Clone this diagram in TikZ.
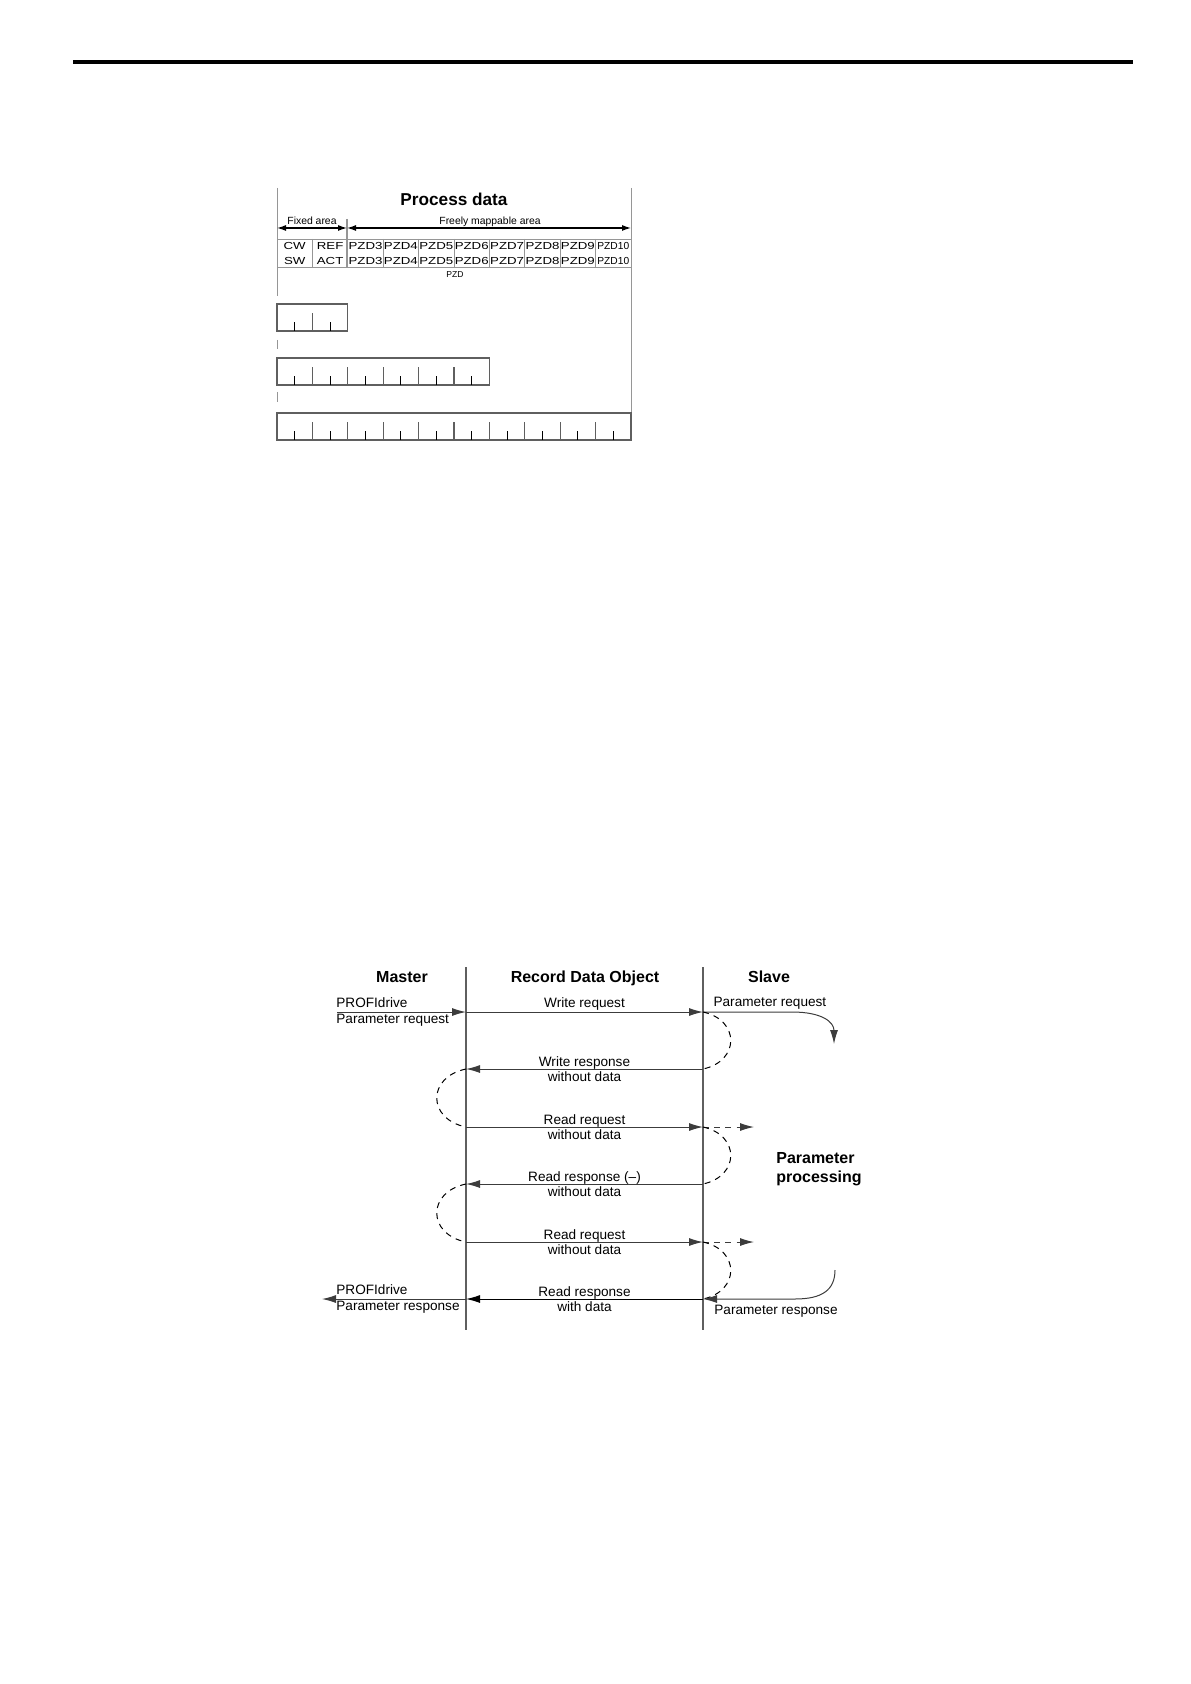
\documentclass[tikz,border=0pt]{standalone}
\usepackage{fontspec}
\setmainfont{Liberation Sans}
\newfontfamily\cellfont[FakeStretch=1.3]{Liberation Sans}
\usepackage{graphicx}
\usetikzlibrary{arrows.meta,calc}
\definecolor{lineGray}{RGB}{95,95,95}
\definecolor{gridGray}{RGB}{150,150,150}
\definecolor{msgGray}{RGB}{60,60,60}

\tikzset{
  lifeline/.style={draw=lineGray, line width=0.7pt},
  msg/.style={draw=msgGray, line width=0.5pt, -{Latex[length=7pt,width=4pt]}},
  loopback/.style={dash pattern=on 3pt off 2.6pt, line width=0.5pt},
  lbl/.style={font=\fontsize{6.8}{7.8}\selectfont, inner sep=1.5pt, align=center},
  hdr/.style={font=\bfseries\fontsize{8}{9.5}\selectfont, inner sep=0pt},
  areaArrow/.style={line width=0.6pt, {Latex[length=4.5pt,width=3pt]}-{Latex[length=4.5pt,width=3pt]}},
  cell/.style={font=\cellfont\fontsize{5.1}{6}\selectfont, inner sep=0pt, anchor=base},
}

\begin{document}
\begin{tikzpicture}[x=0.5pt, y=-0.5pt]
    \useasboundingbox (0,0) rectangle (1190,1684);
    % Page rule
    \fill (73,60) rectangle (1133,64);
    % ---------------- Process data ----------------
    \draw[gridGray] (277,188) -- (277,296);
    \draw[gridGray] (277,340) -- (277,349);
    \draw[gridGray] (277,392) -- (277,402);
    \draw[gridGray] (631,188) -- (631,440);
    \node[font=\bfseries\fontsize{8.6}{10}\selectfont, anchor=base] (pdTitle) at (454,206) {Process data};
    % Fixed / freely mappable areas
    \coordinate (fixL) at (277,228);
    \coordinate (fixR) at (347,228);
    \coordinate (freeR) at (631,228);
    \draw[gridGray, line width=0.6pt] (347,219) -- (347,267);
    \draw[areaArrow] (fixL) -- (fixR);
    \draw[areaArrow] (fixR) -- (freeR);
    \node[font=\fontsize{5.2}{6}\selectfont, anchor=base, inner sep=0pt] (fixLbl) at (312,224.5) {Fixed area};
    \node[font=\fontsize{5.2}{6}\selectfont, anchor=base, inner sep=0pt] (freeLbl) at (490,224.5) {Freely mappable area};
    % Table of words
    \draw[gridGray] (277,239) -- (631,239);
    \draw[gridGray] (277,267) -- (631,267);
    \foreach \i in {1,...,9} {
      \draw[gridGray] ({277+35.4*\i},239) -- ({277+35.4*\i},267);
    }
    \foreach \rowA/\rowB [count=\i] in {CW/SW, REF/ACT, PZD3/PZD3, PZD4/PZD4, PZD5/PZD5,
        PZD6/PZD6, PZD7/PZD7, PZD8/PZD8, PZD9/PZD9} {
      \node[cell] (wa\i) at ({277+35.4*(\i-0.5)},250) {\rowA};
      \node[cell] (wb\i) at ({277+35.4*(\i-0.5)},264.5) {\rowB};
    }
    \node[cell, font=\fontsize{5.1}{6}\selectfont] (wa10) at ({277+35.4*9.5},250) {PZD10};
    \node[cell, font=\fontsize{5.1}{6}\selectfont] (wb10) at ({277+35.4*9.5},264.5) {PZD10};
    \node[font=\fontsize{4.3}{5}\selectfont, inner sep=0pt] (pzdLbl) at (455,275) {PZD};
    % Telegram lengths (2, 6 and 10 words)
    \foreach \n/\y in {2/304, 6/358, 10/413} {
      \draw[lineGray, line width=0.6pt] (277,\y) rectangle ({277+35.4*\n},\y+27);
      \foreach \c in {1,...,\n} {
        \draw[line width=0.5pt] ({277+35.4*(\c-0.5)},\y+27) -- ++(0,-9);
      }
      \pgfmathtruncatemacro\m{\n-1}
      \foreach \c in {1,...,\m} {
        \draw[lineGray, line width=0.6pt] ({277+35.4*\c},\y+27) -- ++(0,-18);
      }
    }
    % ---------------- Parameter handshake ----------------
    \coordinate (mTop) at (466,967);
    \coordinate (mBot) at (466,1330);
    \coordinate (rTop) at (703,967);
    \coordinate (rBot) at (703,1330);
    \draw[lifeline] (mTop) -- (mBot);
    \draw[lifeline] (rTop) -- (rBot);
    \node[hdr, anchor=base] (master) at (402,982.5) {Master};
    \node[hdr, anchor=base] (rdo) at (585,982.5) {Record Data Object};
    \node[hdr, anchor=base] (slave) at (769,982.5) {Slave};
    % message levels on both lifelines
    \foreach \i/\y in {1/1012, 2/1069, 3/1127, 4/1184, 5/1242, 6/1299} {
      \coordinate (m\i) at (466,\y);
      \coordinate (r\i) at (703,\y);
    }
    \coordinate (mIn) at (337,1012);
    \coordinate (mOut) at (322,1299);
    \coordinate (sIn) at (834,1044);
    \coordinate (sOut) at (835,1270);
    \coordinate (p3) at (754,1127);
    \coordinate (p5) at (754,1242);
    % request from the master
    \draw[msg] (mIn) -- (m1);
    \node[lbl, anchor=west, align=left, inner sep=0pt] (profiReq) at (336,1012) {PROFIdrive\\Parameter request};
    \draw[msg] (m1) -- node[lbl, above, inner sep=0.6pt] (wReq) {Write request} (r1);
    \draw[msg] (r1) -- (792,1012) .. controls (822,1012) and (834,1022) .. (sIn);
    \node[lbl, anchor=south west, inner sep=0.6pt] (slaveReq) at (712,1011) {Parameter request};
    \draw[loopback] (r1) .. controls +(37,8) and +(37,-8) .. (r2);
    \draw[msg] (r2) -- node[lbl] (wResp) {Write response\\without data} (m2);
    \draw[loopback] (m2) .. controls +(-39,8) and +(-39,-8) .. (m3);
    % polling
    \draw[msg] (m3) -- node[lbl] (rReq1) {Read request\\without data} (r3);
    \draw[msg, loopback] (r3) -- (p3);
    \draw[loopback] (r3) .. controls +(37,8) and +(37,-8) .. (r4);
    \draw[msg] (r4) -- node[lbl] (rNeg) {Read response (–)\\without data} (m4);
    \draw[loopback] (m4) .. controls +(-39,8) and +(-39,-8) .. (m5);
    \draw[msg] (m5) -- node[lbl] (rReq2) {Read request\\without data} (r5);
    \draw[msg, loopback] (r5) -- (p5);
    \draw[loopback] (r5) .. controls +(37,8) and +(37,-8) .. (r6);
    \node[hdr, align=left] (proc) at (819,1169) {Parameter\\processing};
    % response
    \draw[msg] (sOut) .. controls (835,1290) and (822,1299) .. (795,1299) -- (r6);
    \node[lbl, anchor=north west] (slaveResp) at (711,1302) {Parameter response};
    \draw[msg, draw=black] (r6) -- node[lbl] (rPos) {Read response\\with data} (m6);
    \draw[msg] (m6) -- (mOut);
    \node[lbl, anchor=west, align=left, inner sep=0pt] (profiResp) at (336,1299) {PROFIdrive\\Parameter response};
  \end{tikzpicture}
\end{document}
